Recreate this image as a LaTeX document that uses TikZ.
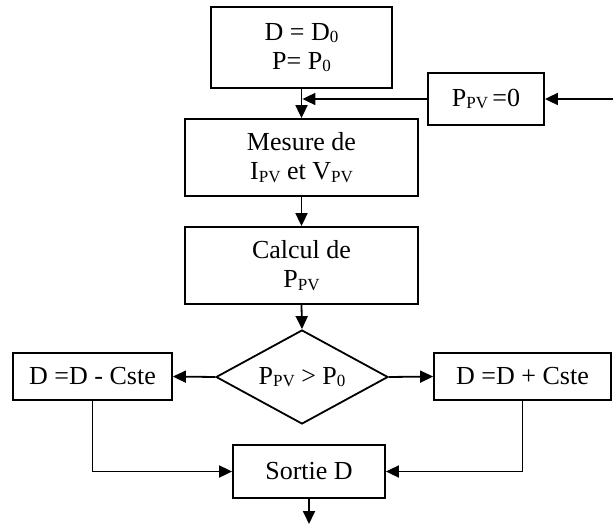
\documentclass[tikz,border=0pt]{standalone}
\usepackage{fontspec}
\setmainfont{Liberation Serif}
\usetikzlibrary{arrows.meta,shapes.geometric,calc}
\newcommand{\lowidx}[1]{\raisebox{-2.5pt}{\fontsize{17}{17}\selectfont #1}}
\begin{document}
\begin{tikzpicture}[x=1pt,y=-1pt,
  every node/.style={font=\fontsize{26}{29}\selectfont, align=center, inner sep=0pt},
  blk/.style={draw, line width=1.8pt, rectangle},
  decision/.style={draw, line width=1.8pt, diamond, shape aspect=1.83},
  link/.style={line width=1.8pt},
  arr/.style={link, -{Triangle[length=13pt,width=12pt]}}]
\useasboundingbox (0,0) rectangle (613,524);

% process boxes
\node[blk, minimum width=181pt, minimum height=81pt] (init) at (301.5,47.5) {D = D\lowidx{0}\\P= P\lowidx{0}};
\node[blk, minimum width=116pt, minimum height=52pt] (zero) at (486,99) {P\lowidx{PV}\,=0};
\node[blk, minimum width=233pt, minimum height=77pt] (mes) at (301.5,157.5) {Mesure de\\I\lowidx{PV} et V\lowidx{PV}};
\node[blk, minimum width=233pt, minimum height=77pt] (calc) at (301.5,265.5) {Calcul de\\P\lowidx{PV}};
\node[decision, minimum width=172pt, minimum height=94pt] (test) at (302,377) {P\lowidx{PV} > P\lowidx{0}};
\node[blk, minimum width=159pt, minimum height=47pt] (minus) at (92.5,376.5) {D =D - Cste};
\node[blk, minimum width=177pt, minimum height=47pt] (plus) at (522.5,376.5) {D =D + Cste};
\node[blk, minimum width=152pt, minimum height=53pt] (out) at (309,471.5) {Sortie D};

% free ends
\coordinate (feed) at (613,99);
\coordinate (end) at (309,524);

% connectors
\draw[arr] (init.south) -- (mes.north);
\draw[arr] (feed) -- (zero.east);
\draw[arr] (zero.west) -- ($(zero.west -| init.south)+(0.9,0)$);
\draw[arr] (mes.south) -- (calc.north);
\draw[arr] (calc.south) -- (test.north);
\draw[arr] (test.west) -- (minus.east);
\draw[arr] (test.east) -- (plus.west);
\draw[arr] (minus.south) |- (out.west);
\draw[arr] (plus.south) |- (out.east);
\draw[arr] (out.south) -- (end);
\end{tikzpicture}
\end{document}
